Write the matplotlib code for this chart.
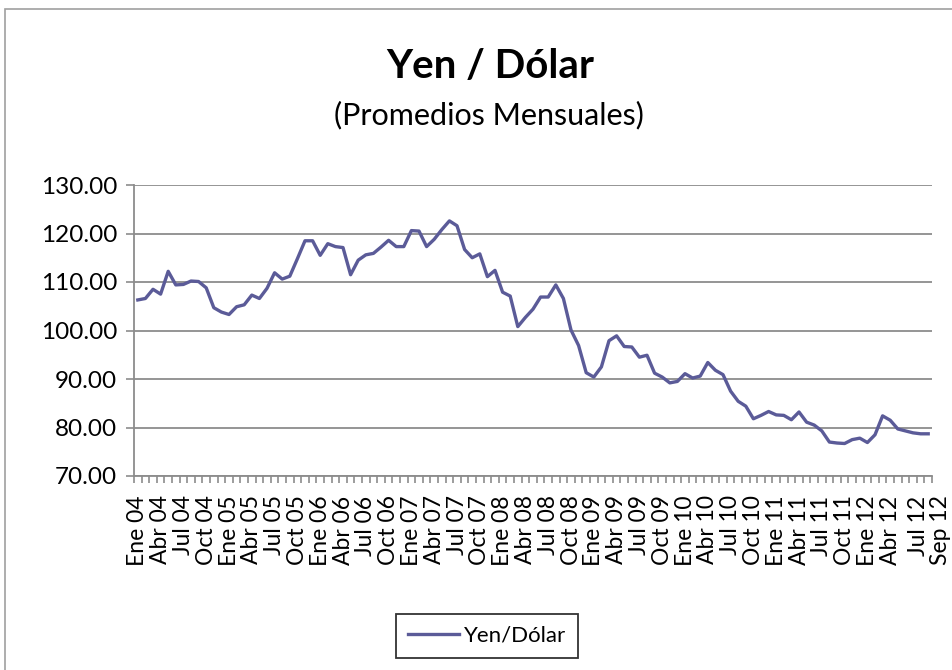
import matplotlib
matplotlib.use("Agg")
import matplotlib.pyplot as plt
from matplotlib.patches import Rectangle
from matplotlib.ticker import FixedLocator, FormatStrFormatter
from matplotlib.transforms import ScaledTranslation

plt.rcParams['font.family'] = ['Lato', 'DejaVu Sans']

months_es = ["Ene", "Feb", "Mar", "Abr", "May", "Jun", "Jul", "Ago", "Sep", "Oct", "Nov", "Dic"]
years = ["04", "05", "06", "07", "08", "09", "10", "11", "12"]

yen_2004 = [106.3, 106.6, 108.5, 107.5, 112.2, 109.4, 109.5, 110.2, 110.1, 108.8, 104.7, 103.8]
yen_2005 = [103.3, 104.9, 105.3, 107.3, 106.6, 108.7, 111.9, 110.6, 111.2, 114.8, 118.5, 118.5]
yen_2006 = [115.5, 117.9, 117.3, 117.1, 111.5, 114.5, 115.6, 115.9, 117.2, 118.6, 117.3, 117.3]
yen_2007 = [120.6, 120.5, 117.3, 118.8, 120.8, 122.6, 121.6, 116.7, 115.0, 115.8, 111.1, 112.4]
yen_2008 = [107.9, 107.1, 100.8, 102.7, 104.4, 106.9, 106.9, 109.4, 106.6, 100.1, 96.9, 91.3]
yen_2009 = [90.4, 92.5, 97.9, 98.9, 96.7, 96.6, 94.5, 94.9, 91.2, 90.4, 89.2, 89.5]
yen_2010 = [91.1, 90.2, 90.6, 93.4, 91.8, 90.9, 87.5, 85.4, 84.4, 81.8, 82.5, 83.3]
yen_2011 = [82.6, 82.5, 81.6, 83.2, 81.1, 80.5, 79.3, 77.0, 76.8, 76.7, 77.5, 77.8]
yen_2012 = [76.9, 78.5, 82.4, 81.5, 79.7, 79.3, 78.9, 78.7, 78.7]

values = (yen_2004 + yen_2005 + yen_2006 + yen_2007 + yen_2008 +
          yen_2009 + yen_2010 + yen_2011 + yen_2012)
categories = [f"{m} {y}" for y in years for m in months_es][:len(values)]

y_ticks = [70, 80, 90, 100, 110, 120, 130]

W, H = 952, 670
fig = plt.figure(figsize=(W / 100, H / 100), dpi=100)

# chart border
fig.patches.append(Rectangle((5 / W, -0.1), 1.2, 1 - 9 / H + 0.1, transform=fig.transFigure,
                             fill=False, edgecolor='#a0a0a0', linewidth=1.2))

ax = fig.add_axes([134 / W, 1 - 476 / H, (932 - 134) / W, (476 - 185) / H])
x = list(range(len(values)))
line_color = '#5B5B98'
ax.plot(x, values, color=line_color, linewidth=2.4, label='Yen/Dólar', solid_joinstyle='round')

ax.set_xlim(-0.5, len(values) - 0.5)
ax.set_ylim(70, 130)

# x labels every 3 months plus last
lab_idx = list(range(0, len(values), 3))
if lab_idx[-1] != len(values) - 1:
    lab_idx.append(len(values) - 1)
ax.set_xticks(lab_idx)
ax.set_xticklabels([categories[i] for i in lab_idx], rotation=90, fontsize=16.5)
ax.xaxis.set_minor_locator(FixedLocator([i - 0.5 for i in range(len(values) + 1)]))
ax.tick_params(axis='x', which='major', length=0, pad=14)
ax.tick_params(axis='x', which='minor', length=5, width=1.2, color='#8c8c8c', direction='out')

# nudge the crowded labels at the right end apart
xl = ax.get_xticklabels()
xl[-1].set_transform(xl[-1].get_transform() + ScaledTranslation(12 / 100, 0, fig.dpi_scale_trans))
xl[-2].set_transform(xl[-2].get_transform() + ScaledTranslation(5 / 100, 0, fig.dpi_scale_trans))

ax.set_yticks(y_ticks)
ax.yaxis.set_major_formatter(FormatStrFormatter('%.2f'))
ax.tick_params(axis='y', which='major', length=6, width=1.2, color='#8c8c8c', labelsize=17.5, pad=6)
ax.grid(axis='y', color='#8c8c8c', linewidth=1.3)
ax.set_axisbelow(True)

for s in ['top', 'right']:
    ax.spines[s].set_visible(False)
for s in ['left', 'bottom']:
    ax.spines[s].set_color('#8c8c8c')
    ax.spines[s].set_linewidth(1.3)

fig.text(490 / W, 1 - 78 / H, 'Yen / Dólar', fontsize=29, fontweight='bold',
         ha='center', va='baseline')
fig.text(489 / W, 1 - 124 / H, '(Promedios Mensuales)', fontsize=22,
         ha='center', va='baseline')

leg = fig.legend(loc='center', bbox_to_anchor=(487 / W, 1 - 636 / H), fontsize=16,
                 frameon=True, fancybox=False, handlelength=2.3, handletextpad=0.2,
                 borderpad=0.55, borderaxespad=0)
leg.get_frame().set_edgecolor('#000000')
leg.get_frame().set_linewidth(1.3)

fig.savefig('out.png', dpi=100)
